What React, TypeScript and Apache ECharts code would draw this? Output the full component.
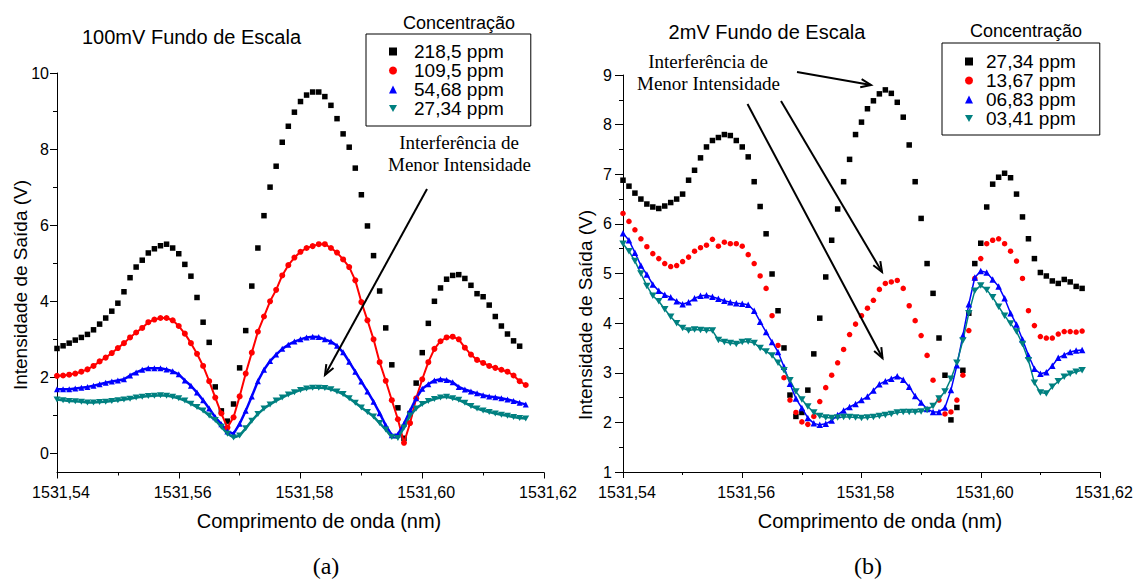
import React, { useEffect, useRef } from "react";
import * as echarts from "echarts";

// Wavelength grid (nm): 1531.540 + i * 0.001
const WL_START = 1531.54;
const WL_STEP = 0.001;

// Panel (a) — 100mV full scale
const leftBlack218 = [2.76, 2.83, 2.9, 2.98, 3.05, 3.13, 3.25, 3.4, 3.56, 3.74, 3.95, 4.25, 4.62, 4.9, 5.08, 5.27, 5.38, 5.46, 5.5, 5.4, 5.25, 4.97, 4.66, 4.1, 3.45, 2.92, 1.75, 1.12, 0.85, 1.3, 2.25, 3.23, 4.4, 5.4, 6.25, 7.0, 7.55, 8.18, 8.6, 8.97, 9.25, 9.42, 9.5, 9.5, 9.38, 9.15, 8.8, 8.4, 8.05, 7.5, 6.8, 5.98, 5.2, 4.27, 3.3, 2.33, 1.2, 0.4, 1.05, 1.85, 2.65, 3.42, 4.0, 4.35, 4.58, 4.68, 4.7, 4.6, 4.42, 4.2, 4.12, 3.9, 3.6, 3.35, 3.14, 2.96, 2.82];
const leftRed109 = [2.04, 2.05, 2.07, 2.1, 2.15, 2.21, 2.3, 2.42, 2.52, 2.64, 2.77, 2.9, 3.05, 3.18, 3.3, 3.45, 3.52, 3.56, 3.56, 3.5, 3.35, 3.15, 2.9, 2.62, 2.3, 1.9, 1.47, 1.05, 0.68, 0.95, 1.5, 2.1, 2.65, 3.2, 3.6, 4.0, 4.3, 4.68, 4.95, 5.15, 5.3, 5.4, 5.45, 5.5, 5.5, 5.4, 5.28, 5.1, 4.9, 4.55, 3.98, 3.5, 3.0, 2.4, 1.91, 1.4, 0.9, 0.28, 0.8, 1.45, 1.95, 2.4, 2.75, 2.95, 3.05, 3.07, 3.0, 2.78, 2.6, 2.46, 2.38, 2.3, 2.25, 2.2, 2.15, 2.05, 1.9, 1.8];
const leftBlue54 = [1.69, 1.69, 1.69, 1.71, 1.73, 1.75, 1.78, 1.82, 1.86, 1.89, 1.92, 1.95, 2.05, 2.13, 2.2, 2.24, 2.24, 2.24, 2.21, 2.16, 2.08, 1.92, 1.78, 1.6, 1.4, 1.18, 0.95, 0.77, 0.58, 0.52, 0.78, 1.12, 1.5, 1.9, 2.2, 2.43, 2.6, 2.75, 2.86, 2.94, 3.0, 3.05, 3.07, 3.06, 3.0, 2.94, 2.83, 2.66, 2.41, 2.15, 1.89, 1.63, 1.36, 1.06, 0.74, 0.48, 0.5, 0.78, 1.12, 1.45, 1.7, 1.82, 1.92, 1.95, 1.93, 1.87, 1.75, 1.68, 1.63, 1.58, 1.53, 1.5, 1.48, 1.45, 1.42, 1.38, 1.33, 1.29];
const leftTeal27 = [1.42, 1.4, 1.38, 1.37, 1.36, 1.34, 1.34, 1.35, 1.36, 1.38, 1.4, 1.42, 1.44, 1.47, 1.49, 1.51, 1.52, 1.53, 1.52, 1.49, 1.45, 1.39, 1.31, 1.22, 1.13, 1.0, 0.88, 0.7, 0.52, 0.42, 0.47, 0.66, 0.86, 1.04, 1.18, 1.29, 1.39, 1.47, 1.55, 1.61, 1.67, 1.71, 1.73, 1.73, 1.72, 1.69, 1.63, 1.56, 1.45, 1.33, 1.21, 1.09, 0.97, 0.8, 0.63, 0.43, 0.41, 0.68, 1.0, 1.18, 1.3, 1.38, 1.43, 1.47, 1.49, 1.45, 1.41, 1.33, 1.25, 1.18, 1.13, 1.09, 1.05, 1.02, 0.99, 0.96, 0.93, 0.92];

// Panel (b) — 2mV full scale
const rightBlack27 = [6.88, 6.76, 6.62, 6.5, 6.4, 6.34, 6.31, 6.36, 6.43, 6.5, 6.6, 6.88, 7.08, 7.33, 7.55, 7.68, 7.74, 7.8, 7.78, 7.68, 7.55, 7.35, 6.85, 6.35, 5.8, 4.99, 4.25, 3.5, 2.55, 2.12, 2.2, 2.65, 3.38, 4.1, 4.93, 5.67, 6.3, 6.85, 7.3, 7.8, 8.05, 8.32, 8.48, 8.62, 8.7, 8.63, 8.45, 8.15, 7.59, 6.85, 6.11, 5.2, 4.6, 3.7, 2.95, 2.05, 2.3, 3.05, 4.2, 5.2, 5.61, 6.34, 6.8, 6.94, 7.02, 6.93, 6.6, 6.14, 5.7, 5.3, 5.02, 4.95, 4.85, 4.8, 4.88, 4.83, 4.74, 4.7];
const rightRed13 = [6.21, 6.05, 5.88, 5.7, 5.54, 5.4, 5.3, 5.2, 5.14, 5.16, 5.24, 5.33, 5.45, 5.52, 5.57, 5.69, 5.55, 5.63, 5.6, 5.6, 5.55, 5.38, 5.2, 4.95, 4.7, 4.15, 3.55, 2.9, 2.45, 2.2, 2.01, 1.96, 2.12, 2.42, 2.7, 2.95, 3.2, 3.47, 3.77, 3.98, 4.15, 4.3, 4.46, 4.68, 4.8, 4.83, 4.86, 4.7, 4.35, 4.05, 3.75, 3.35, 2.85, 2.45, 2.17, 2.21, 2.45, 2.95, 3.85, 4.9, 5.3, 5.6, 5.67, 5.7, 5.6, 5.45, 5.25, 4.9, 4.25, 3.95, 3.73, 3.7, 3.7, 3.78, 3.83, 3.83, 3.82, 3.84];
const rightBlue06 = [5.81, 5.67, 5.42, 5.16, 4.98, 4.78, 4.65, 4.57, 4.52, 4.44, 4.38, 4.42, 4.5, 4.55, 4.56, 4.53, 4.49, 4.45, 4.42, 4.4, 4.39, 4.37, 4.25, 4.03, 3.82, 3.62, 3.42, 3.12, 2.78, 2.48, 2.29, 2.09, 1.98, 1.95, 1.97, 2.04, 2.15, 2.24, 2.31, 2.37, 2.45, 2.52, 2.64, 2.77, 2.83, 2.88, 2.93, 2.86, 2.72, 2.53, 2.4, 2.27, 2.21, 2.21, 2.3, 2.65, 3.15, 3.75, 4.38, 4.92, 5.05, 5.02, 4.88, 4.74, 4.5, 4.2, 3.97, 3.67, 3.35, 3.08, 2.98, 3.01, 3.14, 3.3, 3.36, 3.42, 3.45, 3.46];
const rightTeal03 = [5.6, 5.45, 5.25, 5.0, 4.75, 4.55, 4.44, 4.28, 4.13, 4.0, 3.9, 3.85, 3.87, 3.86, 3.85, 3.85, 3.66, 3.62, 3.6, 3.58, 3.62, 3.63, 3.6, 3.5, 3.43, 3.35, 3.2, 3.05, 2.85, 2.62, 2.46, 2.32, 2.2, 2.13, 2.1, 2.09, 2.1, 2.11, 2.11, 2.1, 2.09, 2.1, 2.11, 2.13, 2.15, 2.17, 2.2, 2.21, 2.21, 2.21, 2.22, 2.25, 2.33, 2.48, 2.62, 2.88, 3.2, 3.65, 4.2, 4.65, 4.76, 4.67, 4.52, 4.33, 4.15, 3.99, 3.83, 3.58, 3.25, 2.8, 2.6, 2.58, 2.72, 2.83, 2.92, 2.98, 3.02, 3.05];

const leftNames = ["218,5 ppm", "109,5 ppm", "54,68 ppm", "27,34 ppm"];
const rightNames = ["27,34 ppm", "13,67 ppm", "06,83 ppm", "03,41 ppm"];
const xTickLabels = ["1531,54", "1531,56", "1531,58", "1531,60", "1531,62"];

const SANS = "Liberation Sans";
const SERIF = "Liberation Serif";
const BLACK = "#000000";
const RED = "#ff0000";
const BLUE = "#0000ff";
const TEAL = "#008080";
const DOWN_TRI = "path://M0,0L10,0L5,9Z";

function pairs(values: number[]) {
  return values.map((v, i) => [+(WL_START + i * WL_STEP).toFixed(3), v]);
}

function arrow(x1: number, y1: number, x2: number, y2: number) {
  const ang = Math.atan2(y2 - y1, x2 - x1);
  const L = 11;
  const a = 0.38;
  const p1 = [x2 - L * Math.cos(ang - a), y2 - L * Math.sin(ang - a)];
  const p2 = [x2 - L * Math.cos(ang + a), y2 - L * Math.sin(ang + a)];
  return [
    { type: "line", z: 100, silent: true, shape: { x1, y1, x2, y2 }, style: { stroke: "#000", lineWidth: 2 } },
    { type: "polyline", z: 100, silent: true, shape: { points: [p1, [x2, y2], p2] }, style: { stroke: "#000", lineWidth: 2, fill: null } },
  ];
}

function txt(text: string, x: number, y: number, size: number, family: string, rotation = 0) {
  return {
    type: "text",
    x,
    y,
    rotation,
    silent: true,
    z: 100,
    style: {
      text,
      fill: "#000",
      font: `${size}px "${family}"`,
      textAlign: "center",
      textVerticalAlign: "middle",
    },
  };
}

const xAxisCommon = (gridIndex: number) => ({
  gridIndex,
  type: "value",
  min: 1531.54,
  max: 1531.62,
  interval: 0.02,
  axisLine: { show: true, onZero: false, lineStyle: { color: BLACK, width: 1 } },
  axisTick: { show: true, length: 6, lineStyle: { color: BLACK } },
  minorTick: { show: true, splitNumber: 2, length: 3, lineStyle: { color: BLACK } },
  splitLine: { show: false },
  minorSplitLine: { show: false },
  axisLabel: {
    margin: 12,
    fontSize: 16,
    fontFamily: SANS,
    color: BLACK,
    padding: [0, 0, 0, 8],
    formatter: (v: number) => {
      const idx = Math.round((v - 1531.54) / 0.02);
      return xTickLabels[idx] ?? v.toFixed(2).replace(".", ",");
    },
  },
});

export default function App() {
  const ref = useRef<HTMLDivElement>(null);

  useEffect(() => {
    if (!ref.current) return;
    const chart = echarts.init(ref.current, undefined, { renderer: "svg" });

    const legendText = (padLeft: number) => ({
      fontSize: 19,
      fontFamily: SANS,
      color: BLACK,
      lineHeight: 18,
      padding: [0, 0, 0, padLeft],
    });

    const option: any = {
      animation: false,
      backgroundColor: "#ffffff",
      grid: [
        { left: 57, top: 73, width: 487, height: 399.5 },
        { left: 623, top: 75, width: 477, height: 397 },
      ],
      xAxis: [xAxisCommon(0), xAxisCommon(1)],
      yAxis: [
        {
          gridIndex: 0,
          type: "value",
          min: -0.5,
          max: 10,
          axisLine: { show: true, onZero: false, lineStyle: { color: BLACK, width: 1 } },
          axisTick: { show: true, length: 7, customValues: [0, 2, 4, 6, 8, 10], lineStyle: { color: BLACK } },
          axisLabel: { customValues: [0, 2, 4, 6, 8, 10], margin: 8, fontSize: 16, fontFamily: SANS, color: BLACK },
          splitLine: { show: false },
        },
        {
          gridIndex: 0,
          type: "value",
          min: -0.5,
          max: 10,
          position: "left",
          axisLine: { show: false, onZero: false },
          axisTick: { show: true, length: 4, customValues: [1, 3, 5, 7, 9], lineStyle: { color: BLACK } },
          axisLabel: { show: false },
          splitLine: { show: false },
        },
        {
          gridIndex: 1,
          type: "value",
          min: 1,
          max: 9,
          interval: 1,
          axisLine: { show: true, onZero: false, lineStyle: { color: BLACK, width: 1 } },
          axisTick: { show: true, length: 8, lineStyle: { color: BLACK } },
          minorTick: { show: true, splitNumber: 2, length: 4, lineStyle: { color: BLACK } },
          axisLabel: { margin: 11, fontSize: 16, fontFamily: SANS, color: BLACK },
          splitLine: { show: false },
          minorSplitLine: { show: false },
        },
      ],
      legend: [
        {
          orient: "vertical",
          left: 366,
          top: 34,
          padding: [8, 27, 8, 23],
          itemGap: 0,
          itemWidth: 8,
          itemHeight: 8,
          borderColor: BLACK,
          borderWidth: 1,
          selectedMode: false,
          textStyle: legendText(12),
          data: [
            { name: leftNames[0], icon: "rect", itemStyle: { color: BLACK, opacity: 1 } },
            { name: leftNames[1], icon: "circle", itemStyle: { color: RED, opacity: 1 } },
            { name: leftNames[2], icon: "triangle", itemStyle: { color: BLUE, opacity: 1 } },
            { name: leftNames[3], icon: DOWN_TRI, itemStyle: { color: TEAL, opacity: 1 } },
          ],
        },
        {
          orient: "vertical",
          left: 942,
          top: 43,
          padding: [9, 24, 7, 23],
          itemGap: 0,
          itemWidth: 8,
          itemHeight: 8,
          borderColor: BLACK,
          borderWidth: 1,
          selectedMode: false,
          textStyle: legendText(8),
          data: [
            { name: rightNames[0], icon: "rect", itemStyle: { color: BLACK, opacity: 1 } },
            { name: rightNames[1], icon: "circle", itemStyle: { color: RED, opacity: 1 } },
            { name: rightNames[2], icon: "triangle", itemStyle: { color: BLUE, opacity: 1 } },
            { name: rightNames[3], icon: DOWN_TRI, itemStyle: { color: TEAL, opacity: 1 } },
          ],
        },
      ],
      series: [
        {
          name: leftNames[0], type: "scatter", xAxisIndex: 0, yAxisIndex: 0,
          data: pairs(leftBlack218), symbol: "rect", symbolSize: 5.5, itemStyle: { color: BLACK, opacity: 1 },
        },
        {
          name: leftNames[1], type: "line", xAxisIndex: 0, yAxisIndex: 0,
          data: pairs(leftRed109), symbol: "circle", symbolSize: 6, showAllSymbol: true,
          lineStyle: { color: RED, width: 2 }, itemStyle: { color: RED, opacity: 1 },
        },
        {
          name: leftNames[2], type: "line", xAxisIndex: 0, yAxisIndex: 0,
          data: pairs(leftBlue54), symbol: "triangle", symbolSize: 6, showAllSymbol: true,
          lineStyle: { color: BLUE, width: 2.5 }, itemStyle: { color: BLUE, opacity: 1 },
        },
        {
          name: leftNames[3], type: "line", xAxisIndex: 0, yAxisIndex: 0,
          data: pairs(leftTeal27), symbol: DOWN_TRI, symbolSize: [7, 6], showAllSymbol: true,
          lineStyle: { color: TEAL, width: 2.5 }, itemStyle: { color: TEAL, opacity: 1 },
        },
        {
          name: rightNames[0], type: "scatter", xAxisIndex: 1, yAxisIndex: 2,
          data: pairs(rightBlack27), symbol: "rect", symbolSize: 5.5, itemStyle: { color: BLACK, opacity: 1 },
        },
        {
          name: rightNames[1], type: "scatter", xAxisIndex: 1, yAxisIndex: 2,
          data: pairs(rightRed13), symbol: "circle", symbolSize: 5.5, itemStyle: { color: RED, opacity: 1 },
        },
        {
          name: rightNames[2], type: "line", xAxisIndex: 1, yAxisIndex: 2,
          data: pairs(rightBlue06), symbol: "triangle", symbolSize: 6.5, showAllSymbol: true,
          lineStyle: { color: BLUE, width: 1.5 }, itemStyle: { color: BLUE, opacity: 1 },
        },
        {
          name: rightNames[3], type: "line", xAxisIndex: 1, yAxisIndex: 2,
          data: pairs(rightTeal03), symbol: DOWN_TRI, symbolSize: [7.5, 6.5], showAllSymbol: true,
          lineStyle: { color: TEAL, width: 1.5 }, itemStyle: { color: TEAL, opacity: 1 },
        },
      ],
      graphic: [
        txt("100mV Fundo de Escala", 191.5, 37, 20, SANS),
        txt("2mV Fundo de Escala", 767, 32, 20, SANS),
        txt("Concentração", 459, 23, 18, SANS),
        txt("Concentração", 1026, 31, 18, SANS),
        txt("Interferência de", 459, 142, 19, SERIF),
        txt("Menor Intensidade", 459.5, 164, 19, SERIF),
        txt("Interferência de", 708, 61, 19, SERIF),
        txt("Menor Intensidade", 708.5, 83, 19, SERIF),
        txt("Intensidade de Saída (V)", 20, 285, 19, SANS, Math.PI / 2),
        txt("Intensidade de Saída (V)", 585, 315, 19, SANS, Math.PI / 2),
        txt("Comprimento de onda (nm)", 319, 521, 20, SANS),
        txt("Comprimento de onda (nm)", 880, 521, 20, SANS),
        txt("(a)", 326, 566, 24, SERIF),
        txt("(b)", 868, 566, 24, SERIF),
        ...arrow(427, 189, 325, 375),
        ...arrow(797, 72, 871, 85),
        ...arrow(781, 101, 882, 272),
        ...arrow(747.5, 104, 882.5, 358),
      ],
    };

    chart.setOption(option);
    return () => chart.dispose();
  }, []);

  return (
    <div
      ref={ref}
      style={{ position: "absolute", left: 0, top: 0, width: 1136, height: 583, background: "#fff" }}
    />
  );
}
